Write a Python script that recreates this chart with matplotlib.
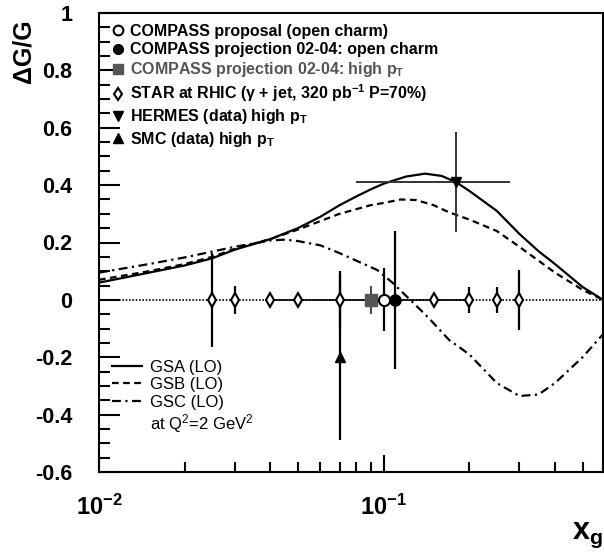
import numpy as np
import matplotlib
matplotlib.use('Agg')
from matplotlib import pyplot as plt
from matplotlib.ticker import MultipleLocator, FixedLocator, NullFormatter, FuncFormatter
from matplotlib.lines import Line2D

plt.rcParams['font.family'] = ['Liberation Sans', 'DejaVu Sans']
plt.rcParams['mathtext.fontset'] = 'custom'
plt.rcParams['mathtext.rm'] = 'Liberation Sans'
plt.rcParams['mathtext.it'] = 'Liberation Sans:italic'
plt.rcParams['mathtext.bf'] = 'Liberation Sans:bold'

# gluon polarisation curves
gsa_x = [0.01, 0.015, 0.02, 0.025, 0.03, 0.04, 0.05, 0.06, 0.07, 0.08, 0.09, 0.1,
         0.12, 0.14, 0.16, 0.18, 0.2, 0.25, 0.3, 0.35, 0.4, 0.5, 0.59]
gsa_y = [0.06, 0.095, 0.12, 0.145, 0.175, 0.212, 0.25, 0.29, 0.33, 0.36, 0.385, 0.405,
         0.43, 0.44, 0.432, 0.41, 0.38, 0.31, 0.23, 0.17, 0.125, 0.045, 0.0]

gsb_x = [0.01, 0.015, 0.02, 0.025, 0.03, 0.04, 0.05, 0.07, 0.09, 0.1, 0.115, 0.13,
         0.15, 0.17, 0.2, 0.25, 0.3, 0.4, 0.5, 0.59]
gsb_y = [0.07, 0.1, 0.125, 0.15, 0.178, 0.212, 0.245, 0.3, 0.33, 0.338, 0.35, 0.348,
         0.33, 0.305, 0.28, 0.24, 0.185, 0.095, 0.035, 0.0]

gsc_x = [0.01, 0.015, 0.02, 0.03, 0.04, 0.045, 0.05, 0.06, 0.07, 0.083, 0.095, 0.108,
         0.124, 0.143, 0.17, 0.2, 0.25, 0.3, 0.35, 0.4, 0.5, 0.59]
gsc_y = [0.095, 0.125, 0.148, 0.185, 0.207, 0.21, 0.205, 0.19, 0.163, 0.13, 0.104, 0.058,
         0.0, -0.06, -0.14, -0.19, -0.29, -0.335, -0.33, -0.29, -0.2, -0.12]

# data points / projections
star_x = [0.025, 0.03, 0.04, 0.05, 0.07, 0.15, 0.2, 0.25, 0.3]
star_y = [0, 0, 0, 0, 0, 0, 0, 0, 0]
star_err = [0.165, 0.05, 0.01, 0.01, 0.1, 0.01, 0.045, 0.045, 0.105]

cp_open_x = [0.1]
cp_open_y = [0.0]
cp_open_err = [0.11]

cp_oc_x = [0.11]
cp_oc_y = [0.0]
cp_oc_err = [0.24]

cp_pt_x = [0.09]
cp_pt_y = [0.0]
cp_pt_err = [0.05]

hermes_x = [0.18]
hermes_y = [0.41]
hermes_xerr_lo = [0.10]
hermes_xerr_hi = [0.097]
hermes_err = [0.175]

smc_x = [0.07]
smc_y = [-0.2]
smc_err = [0.29]

fig = plt.figure(figsize=(6.04, 5.54), dpi=100)
ax = fig.add_axes([99 / 604, 1 - 472 / 554, 504 / 604, 459 / 554])

ax.set_xscale('log')
ax.set_xlim(0.01, 0.59)
ax.set_ylim(-0.6, 1.0)

# zero line
ax.axhline(0, color='k', lw=1.2, ls=(0, (1, 1)))
ax.plot([0.04, 0.2], [0, 0], color='k', lw=1.2)

l_gsa, = ax.plot(gsa_x, gsa_y, color='k', lw=1.6, label='GSA (LO)')
l_gsb, = ax.plot(gsb_x, gsb_y, color='k', lw=1.6, ls=(0, (3, 2)), label='GSB (LO)')
l_gsc, = ax.plot(gsc_x, gsc_y, color='k', lw=1.6, ls=(0, (4, 2, 1, 2)), label='GSC (LO)')

ebkw = dict(ecolor='k', elinewidth=1.6, capsize=0, ls='none')
ax.errorbar(star_x, star_y, yerr=star_err, fmt='d', ms=7, mfc='white', mec='k', mew=1.5, **ebkw)
ax.errorbar(cp_pt_x, cp_pt_y, yerr=cp_pt_err, fmt='s', ms=8, mfc='#555555', mec='#555555',
            ecolor='#444444', elinewidth=1.4, capsize=0, ls='none')
ax.errorbar(cp_open_x, cp_open_y, yerr=cp_open_err, fmt='o', ms=8, mfc='white', mec='k', mew=1.5, **ebkw)
ax.errorbar(cp_oc_x, cp_oc_y, yerr=cp_oc_err, fmt='o', ms=8, mfc='k', mec='k', **ebkw)
ax.errorbar(hermes_x, hermes_y, xerr=[hermes_xerr_lo, hermes_xerr_hi], yerr=hermes_err, fmt='v',
            ms=7, mfc='k', mec='k', ecolor='#333333', elinewidth=1.4, capsize=0, ls='none')
ax.errorbar(smc_x, smc_y, yerr=smc_err, fmt='^', ms=7, mfc='k', mec='k', **ebkw)

# ticks
ax.yaxis.set_major_locator(MultipleLocator(0.2))
ax.yaxis.set_minor_locator(MultipleLocator(0.05))
ax.yaxis.set_major_formatter(FuncFormatter(lambda v, p: '%g' % round(v, 2)))
ax.xaxis.set_major_locator(FixedLocator([0.01, 0.1]))
ax.xaxis.set_minor_locator(FixedLocator([0.02, 0.03, 0.04, 0.05, 0.06, 0.07, 0.08, 0.09,
                                         0.2, 0.3, 0.4, 0.5]))
ax.xaxis.set_minor_formatter(NullFormatter())
ax.xaxis.set_major_formatter(FuncFormatter(
    lambda v, p: r'$\mathbf{10^{%d}}$' % int(round(np.log10(v)))))
ax.tick_params(axis='both', which='both', direction='in', top=False, right=False, width=1.5)
ax.tick_params(axis='y', which='major', length=15, pad=19, labelsize=15.5)
ax.tick_params(axis='y', which='minor', length=8)
ax.tick_params(axis='x', which='major', length=12, pad=16, labelsize=17)
ax.tick_params(axis='x', which='minor', length=7)
for t in ax.get_yticklabels():
    t.set_fontweight('bold')
for s in ax.spines.values():
    s.set_linewidth(1.5)

# legends
h_open = Line2D([], [], marker='o', ls='none', ms=7, mfc='white', mec='k', mew=1.5)
h_oc = Line2D([], [], marker='o', ls='none', ms=7, mfc='k', mec='k')
h_pt = Line2D([], [], marker='s', ls='none', ms=7, mfc='#555555', mec='#555555')
h_star = Line2D([], [], marker='d', ls='none', ms=6.5, mfc='white', mec='k', mew=1.5)
h_her = Line2D([], [], marker='v', ls='none', ms=7, mfc='k', mec='k')
h_smc = Line2D([], [], marker='^', ls='none', ms=7, mfc='k', mec='k')
labels1 = ['COMPASS proposal (open charm)',
           'COMPASS projection 02-04: open charm',
           r'COMPASS projection 02-04: high $\mathbf{p_T}$',
           r'STAR at RHIC (γ + jet, 320 $\mathbf{pb^{-1}}$ P=70%)',
           r'HERMES (data) high $\mathbf{p_T}$',
           r'SMC (data) high $\mathbf{p_T}$']
leg1 = ax.legend([h_open, h_oc, h_pt, h_star, h_her, h_smc], labels1, loc='upper left',
                 bbox_to_anchor=(0.0085, 0.99), frameon=False, handlelength=1.0,
                 handletextpad=0.3, labelspacing=0.2, borderaxespad=0.0,
                 prop={'weight': 'bold', 'size': 11.5})
leg1.get_texts()[2].set_color('#555555')
ax.add_artist(leg1)

h_q = Line2D([], [], ls='none')
leg2 = ax.legend([l_gsa, l_gsb, l_gsc, h_q],
                 ['GSA (LO)', 'GSB (LO)', 'GSC (LO)', r'at Q$^2$=2 GeV$^2$'],
                 loc='upper left', bbox_to_anchor=(0.012, 0.259), frameon=False,
                 handlelength=1.8, handletextpad=0.5, labelspacing=0.15, borderaxespad=0.0,
                 prop={'size': 12})

fig.text(23 / 604, 1 - 51 / 554, 'ΔG/G', rotation=90, ha='center', va='center',
         fontsize=18, fontweight='bold')
fig.text(603 / 604, 1 - 535 / 554, r'$\mathbf{x_g}$', ha='right', va='center', fontsize=22)

fig.savefig('out.png', dpi=100)
